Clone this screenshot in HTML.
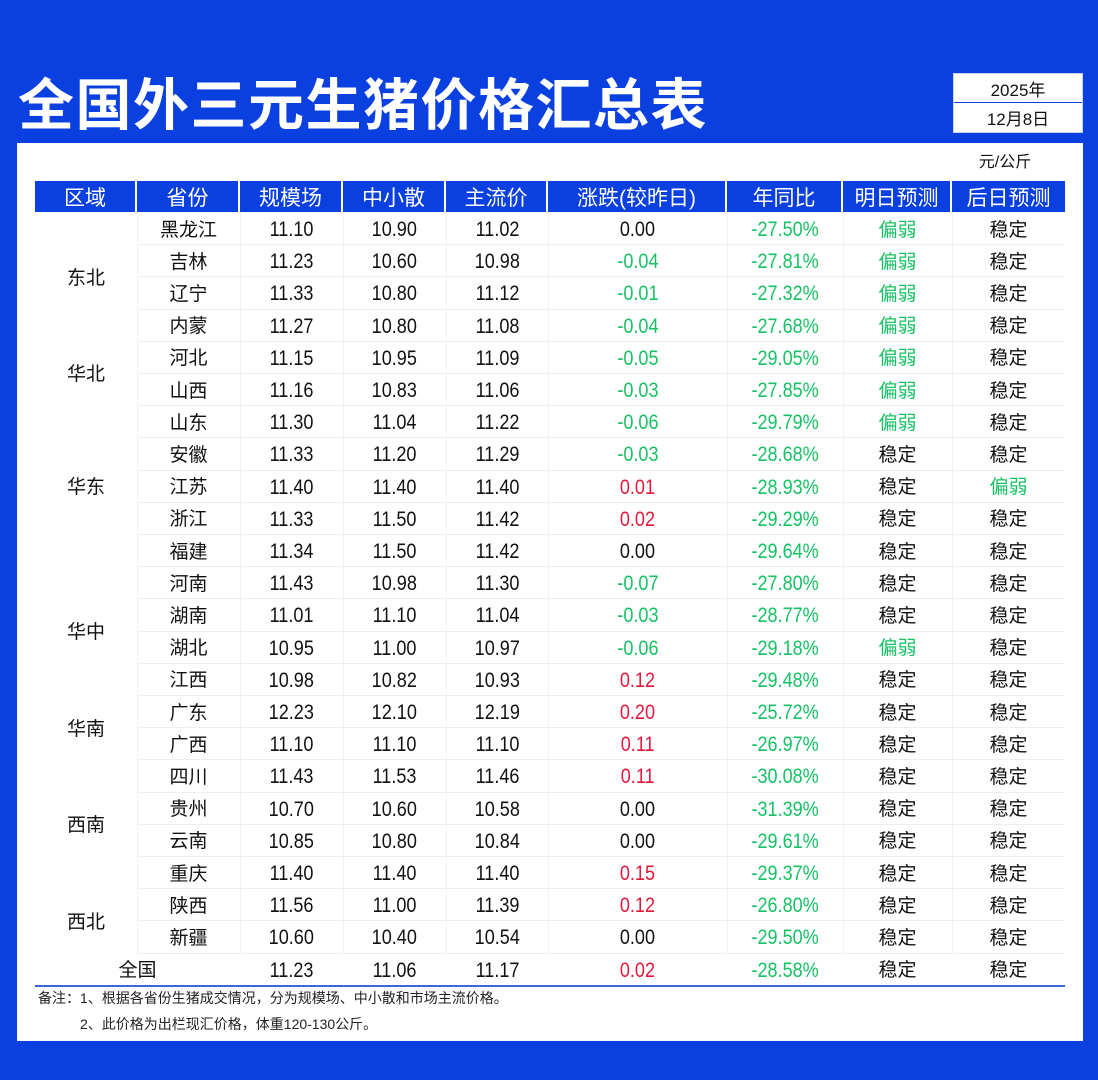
<!DOCTYPE html>
<html><head><meta charset="utf-8">
<style>
body{margin:0;width:1098px;height:1080px;background:#0b40e0;position:relative;overflow:hidden;font-family:"Liberation Sans","Noto Sans CJK SC",sans-serif}
.a{position:absolute}
.c{position:absolute;display:flex;align-items:center;justify-content:center;font-size:19px;color:#111}
.c span{display:inline-block}
.n span{font-size:21px;transform:scaleX(0.86);position:relative;top:2px}
</style></head><body>
<div class="a" style="left:18px;top:74px;font-size:56px;line-height:56px;letter-spacing:1.5px;font-weight:bold;color:#fff;font-family:'Noto Sans CJK SC',sans-serif;white-space:nowrap">全国外三元生猪价格汇总表</div>
<div class="a" style="left:953px;top:73px;width:128px;height:58px;background:#fff;border:1px solid #c9d3ee">
 <div class="c" style="left:0;top:0;width:128px;height:28px;font-size:17px">2025年</div>
 <div class="a" style="left:0;top:28px;width:128px;height:1px;background:#0b40e0"></div>
 <div class="c" style="left:0;top:29px;width:128px;height:29px;font-size:17px">12月8日</div>
</div>
<div class="a" style="left:17px;top:143px;width:1066px;height:898px;background:#fff"></div>
<div class="c" style="left:960px;top:148px;width:90px;height:24px;font-size:16px">元/公斤</div>
<div id="t"></div>
<div class="a" style="left:38px;top:988px;font-size:14px;color:#222">备注：1、根据各省份生猪成交情况，分为规模场、中小散和市场主流价格。</div>
<div class="a" style="left:80px;top:1014px;font-size:14px;color:#222">2、此价格为出栏现汇价格，体重120-130公斤。</div>
<script>
const headers=["区域","省份","规模场","中小散","主流价","涨跌(较昨日)","年同比","明日预测","后日预测"];
const provinces=["黑龙江","吉林","辽宁","内蒙","河北","山西","山东","安徽","江苏","浙江","福建","河南","湖南","湖北","江西","广东","广西","四川","贵州","云南","重庆","陕西","新疆","全国"];
const scale=["11.10","11.23","11.33","11.27","11.15","11.16","11.30","11.33","11.40","11.33","11.34","11.43","11.01","10.95","10.98","12.23","11.10","11.43","10.70","10.85","11.40","11.56","10.60","11.23"];
const small=["10.90","10.60","10.80","10.80","10.95","10.83","11.04","11.20","11.40","11.50","11.50","10.98","11.10","11.00","10.82","12.10","11.10","11.53","10.60","10.80","11.40","11.00","10.40","11.06"];
const main=["11.02","10.98","11.12","11.08","11.09","11.06","11.22","11.29","11.40","11.42","11.42","11.30","11.04","10.97","10.93","12.19","11.10","11.46","10.58","10.84","11.40","11.39","10.54","11.17"];
const change=["0.00","-0.04","-0.01","-0.04","-0.05","-0.03","-0.06","-0.03","0.01","0.02","0.00","-0.07","-0.03","-0.06","0.12","0.20","0.11","0.11","0.00","0.00","0.15","0.12","0.00","0.02"];
const yoy=["-27.50%","-27.81%","-27.32%","-27.68%","-29.05%","-27.85%","-29.79%","-28.68%","-28.93%","-29.29%","-29.64%","-27.80%","-28.77%","-29.18%","-29.48%","-25.72%","-26.97%","-30.08%","-31.39%","-29.61%","-29.37%","-26.80%","-29.50%","-28.58%"];
const tomorrow=["偏弱","偏弱","偏弱","偏弱","偏弱","偏弱","偏弱","稳定","稳定","稳定","稳定","稳定","稳定","偏弱","稳定","稳定","稳定","稳定","稳定","稳定","稳定","稳定","稳定","稳定"];
const dayAfter=["稳定","稳定","稳定","稳定","稳定","稳定","稳定","稳定","偏弱","稳定","稳定","稳定","稳定","稳定","稳定","稳定","稳定","稳定","稳定","稳定","稳定","稳定","稳定","稳定"];
const regions=["东北","华北","华东","华中","华南","西南","西北"];
const regionStart=[0,4,6,11,15,17,21];
const regionCount=[4,2,5,4,2,4,2];
const colX=[35,137,240,343,446,548,727,843,952,1065];
const top0=181,hh=31,rh=32.2;
const G="#17c264",R="#e3193b";
const t=document.getElementById('t');
function mk(x,y,w,h,txt,color,name,bg,num){const d=document.createElement('div');d.className='c'+(num?' n':'');
d.style.cssText+=`left:${x}px;top:${y}px;width:${w}px;height:${h}px;`+(color?`color:${color};`:'')+(bg?`background:${bg};`:'');
const s=document.createElement('span');s.textContent=txt;d.appendChild(s);


t.appendChild(d);return d;}
headers.forEach((h,i)=>{const d=mk(colX[i],top0,colX[i+1]-colX[i]-(i<8?2:0),hh,h,'#fff','header-'+i,'#0b40e0');d.style.fontSize='21px';});
const y0=top0+hh;
for(let r=0;r<24;r++){
 const y=y0+r*rh;
 if(r<23){const l=document.createElement('div');l.className='a';l.style.cssText=`left:${colX[1]}px;top:${y+rh}px;width:${colX[9]-colX[1]}px;height:1px;background:#eceef2`;t.appendChild(l);}
 const cc=v=>v.startsWith('-')?G:(v==="0.00"?'#111':R);
 const fc=v=>v==="偏弱"?G:'#111';
 if(r===23) mk(colX[0],y,colX[2]-colX[0],rh,provinces[r],null,'national-label');
 else mk(colX[1],y,colX[2]-colX[1],rh,provinces[r],null,'province-'+r);
 mk(colX[2],y,103,rh,scale[r],null,'scale-'+r,null,1);
 mk(colX[3],y,103,rh,small[r],null,'small-'+r,null,1);
 mk(colX[4],y,102,rh,main[r],null,'main-'+r,null,1);
 mk(colX[5],y,179,rh,change[r],cc(change[r]),'change-'+r,null,1);
 mk(colX[6],y,116,rh,yoy[r],G,'yoy-'+r,null,1);
 mk(colX[7],y,109,rh,tomorrow[r],fc(tomorrow[r]),'tomorrow-'+r);
 mk(colX[8],y,113,rh,dayAfter[r],fc(dayAfter[r]),'dayafter-'+r);
}
for(let c=1;c<9;c++){const l=document.createElement('div');l.className='a';l.style.cssText=`left:${colX[c]}px;top:${y0}px;width:1px;height:${rh*(23)}px;background:#f1f2f5`;t.appendChild(l);}
regions.forEach((g,i)=>{mk(colX[0],y0+regionStart[i]*rh,colX[1]-colX[0],regionCount[i]*rh,g,null,'region-'+i);});
const b=document.createElement('div');b.className='a';b.style.cssText=`left:35px;top:${y0+24*rh}px;width:1030px;height:2px;background:#3a68d8`;t.appendChild(b);
</script>
</body></html>
